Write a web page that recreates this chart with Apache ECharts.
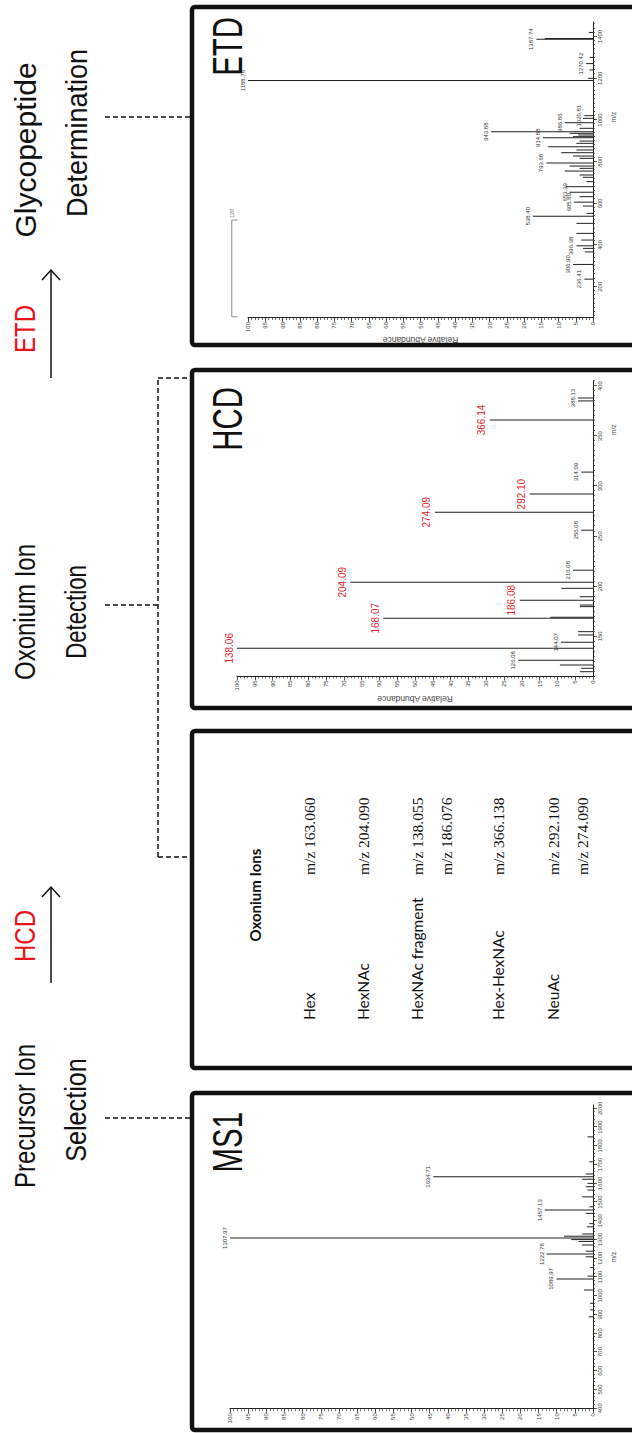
<!DOCTYPE html>
<html><head><meta charset="utf-8">
<script src="https://cdn.jsdelivr.net/npm/echarts@6/dist/echarts.min.js"></script>
<style>
html,body{margin:0;padding:0;background:#fff;width:632px;height:1433px;overflow:hidden}
#c{position:absolute;left:0;top:0;width:1433px;height:632px;transform-origin:0 0;transform:translate(0,1433px) rotate(-90deg);background:#fff}
</style></head><body><div id="c"></div>
<script>
// ---------------- DATA ----------------
// MS1 spectrum: [m/z, relative abundance %]
const ms1Peaks = [[888,1.2],[925,0.8],[960,0.8],[1031,2.5],[1089.97,10.1],[1105,1.5],[1150,0.8],[1208,2],[1222.78,12.8],[1238,2],[1271,3],[1290,4],[1300,6],[1307.97,100],[1318,8],[1330,3],[1368,1.7],[1385,1],[1440,2],[1457.13,13.3],[1475,1],[1528,3],[1564,1.5],[1582,2],[1600,1.5],[1622,3],[1634.71,44],[1650,2],[1715,1],[1848,1.5]];
const ms1Labelled = [1089.97,1222.78,1307.97,1457.13,1634.71];
const ms1Ticks = [400,500,600,700,800,900,1000,1100,1200,1300,1400,1500,1600,1700,1800,1900,2000];

// HCD spectrum
const hcdPeaks = [[114.7,3.7],[118.1,3.3],[121.4,9.3],[126.08,21],[138.06,100],[144.07,9],[151.4,4.2],[154.7,4.2],[168.07,58.9],[169.07,12],[179.7,3.7],[181.3,3.7],[186.08,20.6],[189.6,3.7],[198.0,8.9],[204.09,68.2],[216.08,5.6],[256.08,3.3],[274.09,44.4],[292.10,17.8],[314.09,3.3],[366.14,29.0],[385.2,4.2],[388.13,4.2]];
const hcdOxoniumLabels = [138.06,168.07,186.08,204.09,274.09,292.10,366.14];
const hcdOtherLabels = [126.08,144.07,216.08,256.08,314.09,388.13];
const hcdTicks = [150,200,250,300,350,400];

// ETD spectrum
const etdPeaks = [[236.41,2.5],[306.90,5.8],[367,2.4],[384,2.9],[396.38,4.8],[424,3.4],[456,4.8],[504,4.8],[538.40,17.4],[552,1.9],[587,2.9],[605.80,5.5],[632,3.9],[653.39,6.8],[680,7.9],[704,1.9],[725,2.9],[736,3.9],[755,8.2],[768,3.9],[779,6.8],[793.68,13.5],[816,3.9],[827,5.8],[843,9.2],[856,4.8],[872,13],[888,4.8],[899,3.9],[914.88,14.5],[920,5.8],[928,4.3],[936,6.8],[943.88,29.5],[960,3.9],[986.86,8.2],[1008,2.9],[1020.81,2.5],[1188.76,100],[1200,1.5],[1240,1],[1270.42,2.0],[1300,1],[1387.74,16.4],[1390.7,14],[1420,1.2]];
const etdLabelled = [236.41,306.90,396.38,538.40,605.80,653.39,793.68,914.88,943.88,986.86,1020.81,1188.76,1270.42,1387.74];
const etdTicks = [200,400,600,800,1000,1200,1400];
const etdBracket = [[520,103],[520,104.7],[56,104.7],[56,103]];
const etdBracketLabel = '120';

const intensityTicks = [0,5,10,15,20,25,30,35,40,45,50,55,60,65,70,75,80,85,90,95,100];

// Oxonium ion table
const oxoniumTitle = 'Oxonium Ions';
const oxoniumNames = ['Hex','HexNAc','HexNAc fragment','Hex-HexNAc','NeuAc'];
const oxoniumMz = [['163.060'],['204.090'],['138.055','186.076'],['366.138'],['292.100','274.090']];

// Workflow labels
const stepLabels = [['Precursor Ion','Selection'],['Oxonium Ion','Detection'],['Glycopeptide','Determination']];
const activationLabels = ['HCD','ETD'];
const panelTitles = ['MS1','HCD','ETD'];

// ---------------- CHART ----------------
const W = 1433, H = 632;
const SANS = '"Liberation Sans", Arial, sans-serif';
const chart = echarts.init(document.getElementById('c'), null, {renderer:'svg', width:W, height:H});

function steps(a, b, s){ const r=[]; for(let v=a; v<=b+1e-9; v+=s) r.push(+v.toFixed(3)); return r; }
const near = (arr, v) => arr.some(a => Math.abs(a - v) < 0.005);
const plain = v => String(v);

const panels = [
  {peaks:ms1Peaks, black:ms1Labelled, red:[], min:395, max:2018, ticks:ms1Ticks, minor:steps(400,2000,20),
   grid:{left:23.8, width:304.2, top:230, height:363}, yName:'', yGap:14, mzPad:0},
  {peaks:hcdPeaks, black:hcdOtherLabels, red:hcdOxoniumLabels, min:110, max:405, ticks:hcdTicks, minor:steps(110,405,5),
   grid:{left:756.6, width:295.3, top:237, height:356}, yName:'Relative Abundance', yGap:15, mzPad:198},
  {peaks:etdPeaks, black:etdLabelled, red:[], min:50, max:1470, ticks:etdTicks, minor:steps(60,1460,20),
   grid:{left:1115, width:296, top:248, height:345}, yName:'Relative Abundance', yGap:12, mzPad:106}
];

const grid = [], xAxis = [], yAxis = [], series = [];
const tickColor = '#333';
panels.forEach((p, i) => {
  grid.push(Object.assign({containLabel:false}, p.grid));
  xAxis.push({type:'value', gridIndex:i, min:p.min, max:p.max, position:'bottom',
    axisLine:{show:true, onZero:false, lineStyle:{color:'#222', width:1}},
    axisTick:{show:true, customValues:p.minor, length:2, lineStyle:{color:tickColor, width:0.7}},
    axisLabel:{show:true, customValues:p.ticks, formatter:plain, fontSize:6, color:'#444', margin:4, fontFamily:SANS},
    splitLine:{show:false},
    name:'m/z', nameLocation:'middle', nameGap:17,
    nameTextStyle:{fontSize:6.5, color:'#444', fontFamily:SANS, padding:[0,0,0,p.mzPad]}
  });
  xAxis.push({type:'value', gridIndex:i, min:p.min, max:p.max, position:'bottom',
    axisLine:{show:false, onZero:false},
    axisTick:{show:true, customValues:p.ticks, length:4, lineStyle:{color:tickColor, width:0.8}},
    axisLabel:{show:false}, splitLine:{show:false}
  });
  yAxis.push({type:'value', gridIndex:i, min:0, max:100, position:'left',
    axisLine:{show:true, onZero:false, lineStyle:{color:'#222', width:1}},
    axisTick:{show:true, customValues:steps(0,100,1), length:2, lineStyle:{color:tickColor, width:0.7}},
    axisLabel:{show:true, customValues:intensityTicks, formatter:plain, fontSize:6, color:'#444', margin:4, fontFamily:SANS},
    splitLine:{show:false},
    name:p.yName, nameLocation:'middle', nameGap:p.yGap, nameRotate:90,
    nameTextStyle:{fontSize:8.5, color:'#444', fontFamily:SANS}
  });
  yAxis.push({type:'value', gridIndex:i, min:0, max:100, position:'left',
    axisLine:{show:false, onZero:false},
    axisTick:{show:true, customValues:intensityTicks, length:4, lineStyle:{color:tickColor, width:0.8}},
    axisLabel:{show:false}, splitLine:{show:false}
  });
  series.push({type:'bar', xAxisIndex:2*i, yAxisIndex:2*i, barWidth:1, silent:true, animation:false,
    itemStyle:{color:'#222'},
    data:p.peaks.map(pk => {
      const isRed = near(p.red, pk[0]), isBlack = near(p.black, pk[0]);
      return {value:[pk[0], pk[1]],
        label: isRed ? {show:true, position:'top', distance:3, formatter:pk[0].toFixed(2), color:'#e3262d', fontSize:10, fontFamily:SANS}
             : isBlack ? {show:true, position:'top', distance:2, formatter:pk[0].toFixed(2), color:'#333', fontSize:6, fontFamily:SANS}
             : {show:false}};
    })
  });
});
// ETD inset bracket
series.push({type:'line', xAxisIndex:4, yAxisIndex:4, clip:false, silent:true, animation:false,
  symbol:'circle', symbolSize:0.1, showSymbol:true,
  lineStyle:{color:'#8a8a8a', width:1}, itemStyle:{color:'#8a8a8a'},
  data:etdBracket.map((d, k) => ({value:d, label:{show:k===1, position:'right', distance:2, formatter:etdBracketLabel, fontSize:5.5, color:'#666', fontFamily:SANS}}))
});

// ---------------- GRAPHIC (layout) ----------------
const g = [];
// panel frames
[[3,337],[365,337],[725,338],[1088,338]].forEach(([x,w]) => g.push({type:'rect', shape:{x:x, y:192, width:w, height:470, r:3}, style:{fill:'none', stroke:'#111', lineWidth:4.5}, z:10}));
// panel titles
[[321,panelTitles[0]],[1046,panelTitles[1]],[1416,panelTitles[2]]].forEach(([x,t]) => g.push({type:'text', x:x, y:228, scaleX:0.7, style:{text:t, fontSize:42, fontFamily:SANS, fill:'#111', align:'right', verticalAlign:'middle'}, z:10}));
// step labels: [centre line 1, scaleX 1, centre line 2, scaleX 2]
[[317,0.8,323,0.84],[821,0.8,821,0.74],[1283,1.0,1300,0.9]].forEach(([x1,s1,x2,s2], i) => {
  g.push({type:'text', x:x1, y:25, scaleX:s1, style:{text:stepLabels[i][0], fontSize:30, fontFamily:SANS, fill:'#111', align:'center', verticalAlign:'middle'}});
  g.push({type:'text', x:x2, y:76, scaleX:s2, style:{text:stepLabels[i][1], fontSize:30, fontFamily:SANS, fill:'#111', align:'center', verticalAlign:'middle'}});
});
// activation labels + arrows
[[497,450,546],[1104,1055,1163]].forEach(([cx,a,b], i) => {
  g.push({type:'text', x:cx, y:25, scaleX:0.8, style:{text:activationLabels[i], fontSize:30, fontFamily:SANS, fill:'#e8141b', align:'center', verticalAlign:'middle'}});
  g.push({type:'line', shape:{x1:a, y1:51, x2:b, y2:51}, style:{stroke:'#111', lineWidth:1.5}});
  g.push({type:'polyline', shape:{points:[[b-10,42],[b,51],[b-10,60]]}, style:{stroke:'#111', lineWidth:1.5, fill:'none'}});
});
// dashed connectors
const dash = {stroke:'#111', lineWidth:1.5, lineDash:[5,3]};
[[315,105,315,192],[828,105,828,158],[576,158,1055,158],[576,158,576,192],[1055,158,1055,192],[1316,105,1316,192]].forEach(([x1,y1,x2,y2]) =>
  g.push({type:'line', shape:{x1,y1,x2,y2}, style:Object.assign({}, dash)}));
// oxonium table
g.push({type:'text', x:538, y:255, style:{text:oxoniumTitle, fontSize:15, fontWeight:'bold', fontFamily:'Lato, "Open Sans", sans-serif', fill:'#111', align:'center', verticalAlign:'middle'}});
const rowY = [309,363,417,498,553], secondGap = 29;
oxoniumNames.forEach((n, i) => {
  g.push({type:'text', x:413, y:rowY[i], style:{text:n, fontSize:15.5, fontFamily:'Lato, "Open Sans", sans-serif', fill:'#111', align:'left', verticalAlign:'middle'}});
  oxoniumMz[i].forEach((v, k) => g.push({type:'text', x:558, y:rowY[i] + k*secondGap, style:{text:'m/z ' + v, fontSize:15.5, fontFamily:'"Liberation Serif", "DejaVu Serif", serif', fill:'#111', align:'left', verticalAlign:'middle'}}));
});

chart.setOption({animation:false, backgroundColor:'#fff', grid, xAxis, yAxis, series, graphic:{elements:g}});
</script></body></html>
